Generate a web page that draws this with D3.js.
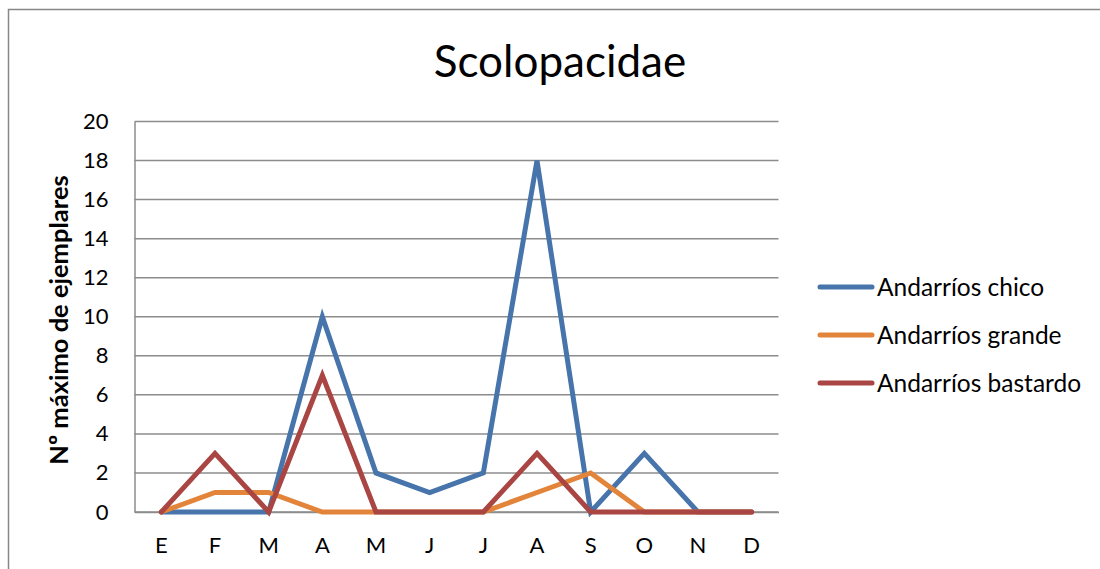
<!DOCTYPE html>
<html>
<head>
<meta charset="utf-8">
<script src="https://cdn.jsdelivr.net/npm/d3@7"></script>
<style>
  html, body { margin: 0; padding: 0; background: #fff; }
  svg { display: block; font-family: Lato, "Open Sans", sans-serif; }
</style>
</head>
<body>
<svg id="chart" width="1100" height="569"></svg>
<script>
// Months of the year (Spanish initials)
const months = ["E", "F", "M", "A", "M", "J", "J", "A", "S", "O", "N", "D"];
const seriesNames = ["Andarríos chico", "Andarríos grande", "Andarríos bastardo"];
const chico    = [0, 0, 0, 10, 2, 1, 2, 18, 0, 3, 0, 0];
const grande   = [0, 1, 1, 0, 0, 0, 0, 1, 2, 0, 0, 0];
const bastardo = [0, 3, 0, 7, 0, 0, 0, 3, 0, 0, 0, 0];
const yTicks = [0, 2, 4, 6, 8, 10, 12, 14, 16, 18, 20];
const colors = ["#4674AB", "#E2843A", "#A94542"];

const svg = d3.select("#chart");
const plot = { left: 134.5, right: 778.5, top: 121.5, bottom: 512 };

// Outer chart frame
svg.append("rect")
  .attr("x", 8.5).attr("y", 9.5)
  .attr("width", 1200).attr("height", 700)
  .attr("fill", "none").attr("stroke", "#878787").attr("stroke-width", 1.5);

const x = d3.scaleBand()
  .domain(d3.range(months.length))
  .range([plot.left, plot.right]);
const y = d3.scaleLinear().domain([0, 20]).range([plot.bottom, plot.top]);

// Horizontal gridlines
svg.append("g")
  .selectAll("line")
  .data(yTicks)
  .join("line")
  .attr("x1", plot.left).attr("x2", plot.right)
  .attr("y1", d => y(d)).attr("y2", d => y(d))
  .attr("stroke", "#8c8c8c").attr("stroke-width", 1.5);

// Y axis
const yAxis = svg.append("g")
  .attr("transform", `translate(${plot.left},0)`)
  .call(d3.axisLeft(y).tickValues(yTicks).tickSize(0).tickPadding(26));
yAxis.select(".domain").attr("stroke", "#8c8c8c").attr("stroke-width", 1.5);
yAxis.selectAll("text")
  .attr("font-size", 22).attr("fill", "#000")
  .attr("font-family", "Lato, 'Open Sans', sans-serif");

// X axis
const xAxis = svg.append("g")
  .attr("transform", `translate(0,${plot.bottom})`)
  .call(d3.axisBottom(x).tickFormat(i => months[i]).tickSize(0).tickPadding(25));
xAxis.select(".domain").attr("stroke", "#8c8c8c").attr("stroke-width", 1.5);
xAxis.selectAll("text")
  .attr("font-size", 22).attr("fill", "#000")
  .attr("font-family", "Lato, 'Open Sans', sans-serif");

// Series lines
const line = d3.line()
  .x((d, i) => x(i) + x.bandwidth() / 2)
  .y(d => y(d));

const series = [chico, grande, bastardo];
svg.append("g")
  .selectAll("path")
  .data(series)
  .join("path")
  .attr("d", line)
  .attr("fill", "none")
  .attr("stroke", (d, i) => colors[i])
  .attr("stroke-width", 5)
  .attr("stroke-linejoin", "miter")
  .attr("stroke-linecap", "round");

// Title
svg.append("text")
  .attr("x", 560).attr("y", 77)
  .attr("text-anchor", "middle")
  .attr("font-size", 44)
  .attr("fill", "#000")
  .text("Scolopacidae");

// Y axis title
svg.append("text")
  .attr("transform", "translate(68,320) rotate(-90)")
  .attr("text-anchor", "middle")
  .attr("font-size", 25.5)
  .attr("font-weight", "bold")
  .attr("fill", "#000")
  .text("Nº máximo de ejemplares");

// Legend
const legend = svg.append("g")
  .selectAll("g")
  .data(seriesNames)
  .join("g")
  .attr("transform", (d, i) => `translate(818,${287 + i * 48})`);
legend.append("line")
  .attr("x1", 2).attr("x2", 54)
  .attr("stroke", (d, i) => colors[i])
  .attr("stroke-width", 5)
  .attr("stroke-linecap", "round");
legend.append("text")
  .attr("x", 59).attr("dy", "0.35em")
  .attr("font-size", 24.5)
  .attr("fill", "#000")
  .text(d => d);
</script>
</body>
</html>
